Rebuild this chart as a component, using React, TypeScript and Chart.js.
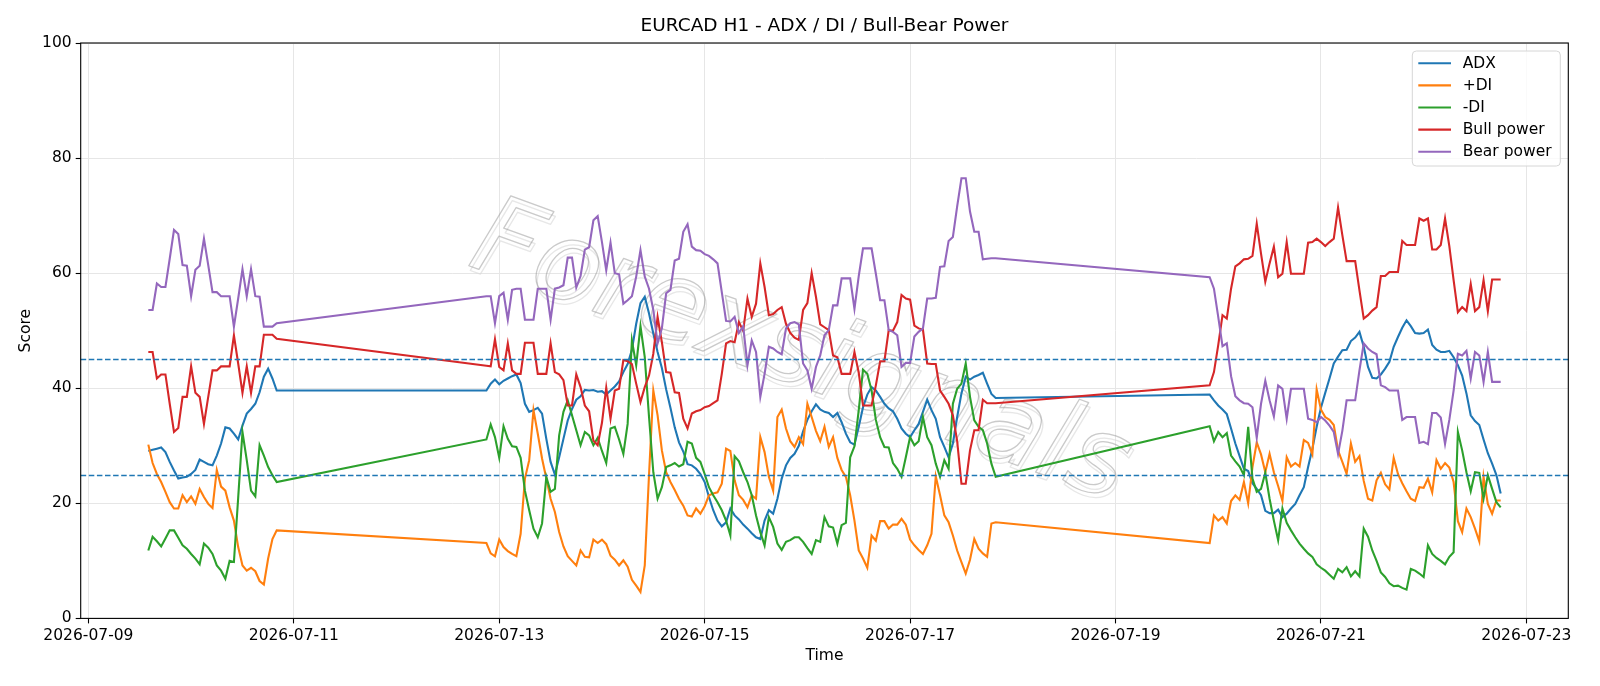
import React, { useEffect, useRef } from 'react';
import { Chart, registerables } from 'chart.js';

Chart.register(...registerables);

const TITLE = 'EURCAD H1 - ADX / DI / Bull-Bear Power';
const X_LABEL = 'Time';
const Y_LABEL = 'Score';
const WATERMARK = 'Forexsignals';

const SERIES_NAMES = ['ADX', '+DI', '-DI', 'Bull power', 'Bear power'];
const SERIES_COLORS = ['#1f77b4', '#ff7f0e', '#2ca02c', '#d62728', '#9467bd'];
const THRESHOLDS = [25, 45];

// x ticks: hours after 2026-07-09 00:00
const TICK_HOURS = [0, 48, 96, 144, 192, 240, 288, 336];
const TICK_LABELS = ['2026-07-09', '2026-07-11', '2026-07-13', '2026-07-15', '2026-07-17', '2026-07-19', '2026-07-21', '2026-07-23'];

// hourly trading sessions: first bar (hours after 2026-07-09 00:00) and bar count
const SESSION_START_HOURS = [14, 93, 262];
const SESSION_BAR_COUNTS = [31, 120, 69];

const ADX = [
  29.1, 29.3, 29.5, 29.7, 28.9, 27.2, 25.7, 24.3, 24.5, 24.6, 25.1, 25.8, 27.6, 27.2, 26.8, 26.6, 28.3, 30.4, 33.2, 33.0,
  32.1, 31.1, 33.5, 35.6, 36.4, 37.3, 39.3, 42.0, 43.4, 41.7, 39.6,
  39.6, 40.8, 41.5, 40.7, 41.3, 41.7, 42.1, 42.4, 40.9, 37.3, 35.9, 36.2, 36.6, 35.6, 31.2, 27.2, 25.0, 28.0, 31.2, 34.4,
  36.4, 38.0, 38.6, 39.7, 39.6, 39.7, 39.4, 39.5, 38.9, 39.6, 40.3, 41.2, 42.8, 44.2, 46.7, 51.2, 54.8, 55.9, 53.0, 49.5,
  46.3, 43.5, 39.8, 36.6, 33.2, 30.6, 29.0, 26.8, 26.6, 26.0, 25.1, 23.7, 21.1, 18.8, 17.0, 16.0, 16.7, 19.1, 17.9, 17.2,
  16.3, 15.6, 14.8, 14.1, 13.8, 17.0, 18.8, 18.2, 20.8, 24.3, 26.6, 27.9, 28.6, 30.0, 32.5, 34.5, 36.0, 37.2, 36.3, 35.9,
  35.7, 35.0, 35.7, 34.1, 32.1, 30.6, 30.2, 33.3, 36.7, 38.9, 40.2, 39.6, 38.5, 37.3, 36.5, 36.0, 34.7, 33.0, 32.1, 31.5,
  32.7, 33.8, 35.9, 38.0, 36.2, 34.7, 31.5, 29.8, 28.0, 30.4, 35.0, 39.1, 42.0, 41.5, 42.0, 42.3, 42.7, 40.8, 39.0, 38.3,
  38.9, 37.9, 37.0, 36.3, 35.5, 33.0, 30.4, 28.2, 26.0, 25.6, 23.5, 22.5, 21.4, 18.7, 18.3, 18.3, 18.9, 17.6, 18.2, 19.1,
  19.9, 21.4, 22.8, 26.3, 29.5, 33.3, 36.6, 39.2, 41.7, 44.3, 45.5, 46.6, 46.7, 48.2, 48.8, 49.8, 47.2, 43.7, 41.8, 41.7,
  42.4, 43.4, 44.6, 47.2, 48.9, 50.5, 51.8, 50.8, 49.6, 49.5, 49.6, 50.2, 47.5, 46.7, 46.3, 46.3, 46.5, 45.4, 44.0, 42.2,
  39.1, 35.3, 34.3, 33.6, 31.1, 28.7, 26.9, 24.9, 21.7,
];

const PLUS_DI = [
  30.2, 27.0, 25.1, 23.7, 22.0, 20.2, 19.1, 19.1, 21.4, 20.2, 21.2, 19.9, 22.5, 21.1, 19.9, 19.2, 25.8, 22.9, 22.2, 19.3,
  17.0, 12.4, 9.2, 8.3, 8.8, 8.2, 6.5, 5.9, 10.4, 13.8, 15.3,
  13.1, 11.3, 10.8, 13.7, 12.4, 11.7, 11.2, 10.8, 14.7, 24.3, 27.5, 36.2, 32.1, 27.8, 24.3, 20.8, 18.5, 15.0, 12.5, 10.8,
  10.0, 9.2, 11.8, 10.7, 10.6, 13.7, 13.1, 13.7, 12.9, 10.9, 10.2, 9.2, 10.1, 9.0, 6.7, 5.7, 4.6, 9.2, 25.0, 39.6,
  35.3, 29.2, 25.4, 23.7, 22.3, 20.8, 19.6, 17.9, 17.7, 19.1, 18.2, 19.5, 21.4, 21.7, 21.9, 23.4, 29.5, 29.1, 24.0, 21.4,
  20.6, 19.3, 21.4, 20.8, 31.5, 28.9, 24.6, 22.2, 35.0, 36.3, 33.0, 30.8, 29.8, 31.5, 30.3, 37.3, 35.0, 32.6, 30.8, 33.3,
  29.8, 31.5, 27.9, 25.8, 24.6, 21.4, 17.0, 11.8, 10.4, 8.8, 14.4, 13.5, 16.9, 16.9, 15.6, 16.3, 16.3, 17.3, 16.3, 13.7,
  12.7, 11.9, 11.2, 12.7, 14.7, 24.7, 21.4, 17.9, 16.7, 14.4, 11.8, 9.8, 7.8, 10.2, 13.8, 12.1, 11.3, 10.7, 16.5, 16.7,
  13.1, 17.9, 17.0, 17.6, 16.5, 20.4, 21.4, 20.6, 23.7, 20.0, 26.3, 30.6, 28.5, 25.4, 28.6, 25.4, 23.0, 20.4, 28.0, 26.4,
  27.0, 26.4, 31.0, 30.5, 28.5, 39.8, 36.3, 35.0, 34.5, 33.6, 29.2, 27.2, 25.1, 30.4, 27.2, 28.2, 23.9, 20.8, 20.5, 24.0,
  25.3, 23.3, 22.4, 27.9, 25.1, 23.5, 22.1, 20.8, 20.4, 22.8, 22.7, 24.3, 21.9, 27.5, 26.0, 27.0, 26.2, 23.7, 16.9, 15.0,
  19.1, 17.6, 15.6, 13.4, 24.6, 19.9, 18.2, 20.5, 20.5,
];

const MINUS_DI = [
  11.8, 14.2, 13.4, 12.5, 13.9, 15.3, 15.3, 14.0, 12.7, 12.1, 11.2, 10.4, 9.4, 13.0, 12.3, 11.2, 9.2, 8.3, 6.9, 10.0,
  9.8, 21.0, 32.4, 27.5, 22.2, 21.2, 30.1, 28.3, 26.3, 24.9, 23.7,
  31.1, 33.7, 31.5, 27.9, 33.4, 31.2, 29.9, 29.8, 27.9, 22.2, 18.8, 15.6, 14.1, 16.5, 24.6, 22.0, 22.5, 31.8, 35.9, 37.9,
  35.3, 32.7, 30.1, 32.4, 31.8, 30.1, 31.4, 29.1, 27.0, 33.0, 33.3, 31.1, 28.6, 33.8, 48.3, 44.0, 50.8, 45.4, 35.0, 25.4,
  20.8, 22.8, 26.3, 26.6, 27.0, 26.4, 26.8, 30.7, 30.4, 27.9, 27.2, 25.1, 22.8, 21.4, 20.2, 18.8, 17.0, 14.4, 28.2, 27.3,
  25.4, 23.7, 21.4, 17.9, 15.0, 12.7, 17.6, 15.9, 13.0, 11.9, 13.3, 13.6, 14.1, 14.1, 13.3, 12.2, 11.2, 13.6, 13.3, 17.6,
  16.0, 15.8, 13.0, 16.2, 16.6, 28.0, 29.9, 36.2, 43.2, 42.5, 39.6, 34.5, 31.5, 29.8, 29.7, 27.0, 26.0, 24.6, 28.0, 31.5,
  30.1, 30.8, 35.0, 31.5, 30.1, 26.9, 24.6, 27.5, 26.0, 37.3, 39.9, 40.8, 44.3, 38.5, 34.4, 33.3, 32.7, 30.4, 26.9, 24.6,
  33.4, 30.8, 32.4, 31.5, 32.2, 28.3, 27.3, 26.4, 24.9, 33.3, 24.3, 22.0, 22.5, 25.3, 20.8, 17.0, 13.6, 19.1, 16.6, 15.3,
  14.1, 13.0, 12.1, 11.3, 10.7, 9.4, 8.8, 8.3, 7.6, 6.9, 8.6, 8.0, 8.9, 7.3, 8.2, 7.3, 15.6, 14.2, 11.8, 10.0,
  8.0, 7.2, 6.1, 5.6, 5.7, 5.3, 5.0, 8.6, 8.3, 7.8, 7.2, 12.7, 11.2, 10.5, 10.0, 9.4, 10.7, 11.5, 32.4, 29.2,
  25.4, 22.1, 25.4, 25.3, 20.8, 24.9, 22.5, 20.2, 19.3,
];

const BULL_POWER = [
  46.3, 46.3, 41.7, 42.4, 42.4, 37.3, 32.4, 33.1, 38.5, 38.5, 43.8, 39.2, 38.5, 33.8, 38.5, 43.1, 43.1, 43.8, 43.8, 43.8,
  49.2, 44.3, 39.2, 43.8, 39.2, 43.8, 43.8, 49.3, 49.3, 49.3, 48.6,
  43.9, 43.8, 48.5, 43.7, 43.1, 47.8, 43.1, 42.5, 42.5, 47.9, 47.9, 47.9, 42.5, 42.5, 42.5, 47.8, 42.8, 42.4, 41.4, 37.0,
  37.0, 42.4, 40.2, 37.0, 36.0, 30.9, 30.1, 34.0, 40.1, 34.7, 39.6, 39.9, 44.9, 44.7, 44.2, 40.8, 37.6, 40.2, 42.2, 46.0,
  52.4, 48.0, 42.8, 42.7, 39.3, 39.2, 34.7, 33.0, 35.6, 36.0, 36.2, 36.7, 36.9, 37.4, 37.9, 42.5, 47.8, 48.2, 48.0, 51.5,
  50.0, 55.6, 52.4, 54.7, 61.7, 57.6, 52.7, 52.9, 53.6, 54.1, 51.2, 49.6, 48.8, 48.4, 53.6, 54.8, 60.0, 55.9, 51.1, 50.6,
  50.1, 45.7, 45.4, 42.5, 42.5, 42.5, 46.3, 42.7, 37.0, 37.0, 37.0, 40.5, 44.7, 44.7, 50.1, 50.0, 51.5, 56.2, 55.6, 55.4,
  50.9, 50.4, 50.2, 44.3, 44.2, 44.2, 39.6, 38.5, 37.3, 35.3, 30.8, 23.4, 23.4, 29.2, 32.7, 32.7, 38.0, 37.4, 37.4, 37.4,
  40.5, 42.8, 47.5, 52.7, 52.1, 57.3, 61.2, 61.7, 62.4, 62.5, 63.0, 68.6, 63.4, 58.5, 61.7, 64.6, 59.3, 59.9, 65.4, 59.9,
  59.9, 59.9, 59.9, 65.3, 65.4, 66.0, 65.4, 64.7, 65.4, 66.0, 71.4, 66.6, 62.1, 62.1, 62.1, 57.0, 52.1, 52.7, 53.5, 54.1,
  59.5, 59.5, 60.2, 60.2, 60.2, 65.6, 64.9, 64.9, 64.9, 69.5, 69.1, 69.5, 64.1, 64.1, 64.9, 69.5, 64.7, 58.8, 53.2, 54.1,
  53.4, 58.1, 53.4, 54.1, 58.8, 53.4, 58.9, 58.9, 58.9,
];

const BEAR_POWER = [
  53.6, 53.6, 58.2, 57.6, 57.6, 62.5, 67.5, 66.8, 61.4, 61.3, 56.0, 60.6, 61.3, 66.0, 61.4, 56.7, 56.7, 56.0, 56.0, 56.0,
  50.7, 55.6, 60.7, 56.0, 60.7, 56.0, 55.9, 50.7, 50.7, 50.7, 51.3,
  56.0, 56.0, 51.3, 56.0, 56.6, 51.9, 57.1, 57.3, 57.3, 51.9, 51.9, 51.9, 57.3, 57.3, 57.3, 51.9, 57.3, 57.5, 57.9, 62.7,
  62.7, 57.5, 59.5, 64.1, 64.5, 69.2, 69.9, 65.4, 60.5, 65.3, 60.0, 59.8, 54.7, 55.3, 56.0, 59.4, 64.0, 59.4, 57.3, 53.6,
  47.8, 50.4, 56.5, 57.1, 62.2, 62.5, 67.2, 68.5, 64.6, 64.0, 63.9, 63.3, 63.0, 62.4, 61.7, 56.7, 51.7, 51.6, 52.4, 49.6,
  50.8, 44.0, 48.3, 46.3, 38.5, 42.5, 47.2, 46.9, 46.3, 45.9, 50.4, 51.3, 51.5, 51.1, 44.3, 43.1, 39.9, 43.7, 45.7, 49.2,
  50.1, 54.4, 54.4, 59.1, 59.1, 59.1, 53.8, 59.5, 64.3, 64.3, 64.3, 59.9, 55.3, 55.3, 50.1, 49.8, 49.2, 43.7, 44.4, 44.4,
  49.0, 49.8, 50.4, 55.6, 55.6, 55.7, 61.1, 61.2, 65.6, 66.3, 71.6, 76.5, 76.5, 70.7, 67.2, 67.2, 62.4, 62.5, 62.6, 62.6,
  59.3, 57.3, 52.4, 47.3, 47.8, 42.1, 38.6, 37.9, 37.4, 37.3, 36.7, 31.4, 37.3, 41.3, 37.9, 35.1, 40.5, 39.9, 34.7, 39.9,
  39.9, 39.9, 39.9, 34.7, 34.5, 34.1, 35.0, 34.4, 33.5, 32.4, 28.6, 32.6, 37.9, 37.9, 37.9, 43.1, 47.8, 46.9, 46.3, 45.9,
  40.5, 40.2, 39.6, 39.6, 39.6, 34.5, 35.0, 35.0, 35.0, 30.5, 30.7, 30.3, 35.7, 35.7, 34.9, 30.3, 34.5, 39.6, 46.0, 45.7,
  46.5, 41.7, 46.3, 45.7, 41.1, 46.3, 41.1, 41.1, 41.1,
];

const SERIES_VALUES = [ADX, PLUS_DI, MINUS_DI, BULL_POWER, BEAR_POWER];

const FONT = '"DejaVu Sans", sans-serif';

// layout (pixels)
const W = 1600;
const H = 686;
const AREA = { left: 80.7, top: 43, right: 1568.3, bottom: 618.4 };

function buildHours(): number[] {
  const out: number[] = [];
  SESSION_START_HOURS.forEach((start, s) => {
    for (let i = 0; i < SESSION_BAR_COUNTS[s]; i++) out.push(start + i);
  });
  return out;
}

const decorPlugin = {
  id: 'decor',
  beforeDatasetsDraw(chart: any) {
    const { ctx, chartArea } = chart;
    // watermark
    ctx.save();
    ctx.beginPath();
    ctx.rect(chartArea.left, chartArea.top, chartArea.right - chartArea.left, chartArea.bottom - chartArea.top);
    ctx.clip();
    ctx.translate(800, 356);
    ctx.rotate((20 * Math.PI) / 180);
    ctx.font = `italic 100px "DejaVu Sans"`;
    const w = ctx.measureText(WATERMARK).width;
    const size = (100 * 690) / w;
    ctx.font = `italic ${size.toFixed(1)}px "DejaVu Sans"`;
    ctx.textAlign = 'center';
    ctx.textBaseline = 'middle';
    ctx.lineJoin = 'round';
    ctx.lineWidth = 1.3;
    ctx.strokeStyle = 'rgba(215,215,215,0.6)';
    ctx.strokeText(WATERMARK, 3, 4);
    ctx.strokeStyle = 'rgba(150,150,150,0.5)';
    ctx.strokeText(WATERMARK, 0, 0);
    ctx.restore();
  },
  afterDatasetsDraw(chart: any) {
    const { ctx, chartArea, scales } = chart;
    ctx.save();
    // threshold lines
    ctx.strokeStyle = '#1f77b4';
    ctx.lineWidth = 1.3;
    ctx.setLineDash([5.5, 2.6]);
    THRESHOLDS.forEach((t) => {
      const y = Math.round(scales.y.getPixelForValue(t)) + 0.5;
      ctx.beginPath();
      ctx.moveTo(chartArea.left, y);
      ctx.lineTo(chartArea.right, y);
      ctx.stroke();
    });
    ctx.setLineDash([]);
    // frame
    ctx.strokeStyle = '#000';
    ctx.lineWidth = 1.1;
    ctx.strokeRect(chartArea.left, chartArea.top, chartArea.right - chartArea.left, chartArea.bottom - chartArea.top);
    ctx.restore();
  },
  afterDraw(chart: any) {
    const { ctx, chartArea } = chart;
    const cx = (chartArea.left + chartArea.right) / 2;
    ctx.save();
    ctx.fillStyle = '#000';
    ctx.textAlign = 'center';
    ctx.textBaseline = 'middle';
    ctx.font = `18.5px ${FONT}`;
    ctx.fillText(TITLE, cx, 26.5);
    ctx.font = `15.5px ${FONT}`;
    ctx.fillText(X_LABEL, cx, 656);
    ctx.save();
    ctx.translate(25.5, (chartArea.top + chartArea.bottom) / 2);
    ctx.rotate(-Math.PI / 2);
    ctx.fillText(Y_LABEL, 0, 0);
    ctx.restore();

    // legend
    const bx = 1412.3, by = 51, bw = 148, bh = 115, r = 4;
    ctx.beginPath();
    ctx.moveTo(bx + r, by);
    ctx.lineTo(bx + bw - r, by);
    ctx.quadraticCurveTo(bx + bw, by, bx + bw, by + r);
    ctx.lineTo(bx + bw, by + bh - r);
    ctx.quadraticCurveTo(bx + bw, by + bh, bx + bw - r, by + bh);
    ctx.lineTo(bx + r, by + bh);
    ctx.quadraticCurveTo(bx, by + bh, bx, by + bh - r);
    ctx.lineTo(bx, by + r);
    ctx.quadraticCurveTo(bx, by, bx + r, by);
    ctx.closePath();
    ctx.fillStyle = 'rgba(255,255,255,0.8)';
    ctx.fill();
    ctx.strokeStyle = '#d6d6d6';
    ctx.lineWidth = 1;
    ctx.stroke();
    ctx.textAlign = 'left';
    ctx.font = `15.5px ${FONT}`;
    SERIES_NAMES.forEach((name, i) => {
      const y = 63.3 + i * 22.1;
      ctx.strokeStyle = SERIES_COLORS[i];
      ctx.lineWidth = 2.1;
      ctx.beginPath();
      ctx.moveTo(1418.3, y);
      ctx.lineTo(1451, y);
      ctx.stroke();
      ctx.fillStyle = '#000';
      ctx.fillText(name, 1462.7, y + 0.5);
    });
    ctx.restore();
  },
};

export default function App() {
  const canvasRef = useRef<HTMLCanvasElement | null>(null);

  useEffect(() => {
    const canvas = canvasRef.current;
    if (!canvas) return;
    const hours = buildHours();
    const dataMin = hours[0];
    const dataMax = hours[hours.length - 1];
    const margin = (dataMax - dataMin) * 0.05;

    const datasets = SERIES_VALUES.map((vals, i) => ({
      label: SERIES_NAMES[i],
      data: vals.map((v, k) => ({ x: hours[k], y: v })),
      borderColor: SERIES_COLORS[i],
      backgroundColor: SERIES_COLORS[i],
      borderWidth: 2.1,
      pointRadius: 0,
      tension: 0,
      fill: false,
      order: SERIES_VALUES.length - i,
    }));

    const chart = new Chart(canvas, {
      type: 'line',
      data: { datasets },
      plugins: [decorPlugin],
      options: {
        animation: false,
        responsive: false,
        devicePixelRatio: 1,
        layout: { padding: { left: AREA.left - 80.7, top: AREA.top, right: W - AREA.right, bottom: 0 } },
        plugins: {
          legend: { display: false },
          title: { display: false },
          tooltip: { enabled: false },
        },
        scales: {
          x: {
            type: 'linear',
            min: dataMin - margin,
            max: dataMax + margin,
            afterBuildTicks: (s: any) => {
              s.ticks = TICK_HOURS.map((v) => ({ value: v }));
            },
            afterFit: (s: any) => {
              s.height = H - AREA.bottom;
            },
            ticks: {
              autoSkip: false,
              maxRotation: 0,
              minRotation: 0,
              padding: 3,
              color: '#000',
              font: { family: FONT, size: 15.5 },
              callback: (v: any) => {
                const idx = TICK_HOURS.indexOf(Number(v));
                return idx >= 0 ? TICK_LABELS[idx] : '';
              },
            },
            grid: { color: '#e6e6e6', lineWidth: 1, tickLength: 5, tickColor: '#000', tickWidth: 1.1 },
            border: { display: false },
          },
          y: {
            type: 'linear',
            min: 0,
            max: 100,
            afterFit: (s: any) => {
              s.width = 80.7;
            },
            ticks: {
              stepSize: 20,
              padding: 4,
              color: '#000',
              font: { family: FONT, size: 15.5 },
            },
            grid: { color: '#e6e6e6', lineWidth: 1, tickLength: 5, tickColor: '#000', tickWidth: 1.1 },
            border: { display: false },
          },
        },
      },
    } as any);

    return () => chart.destroy();
  }, []);

  return (
    <div style={{ position: 'fixed', left: 0, top: 0, width: W, height: H, background: '#fff' }}>
      <canvas ref={canvasRef} width={W} height={H} style={{ width: W, height: H, display: 'block' }} />
    </div>
  );
}
